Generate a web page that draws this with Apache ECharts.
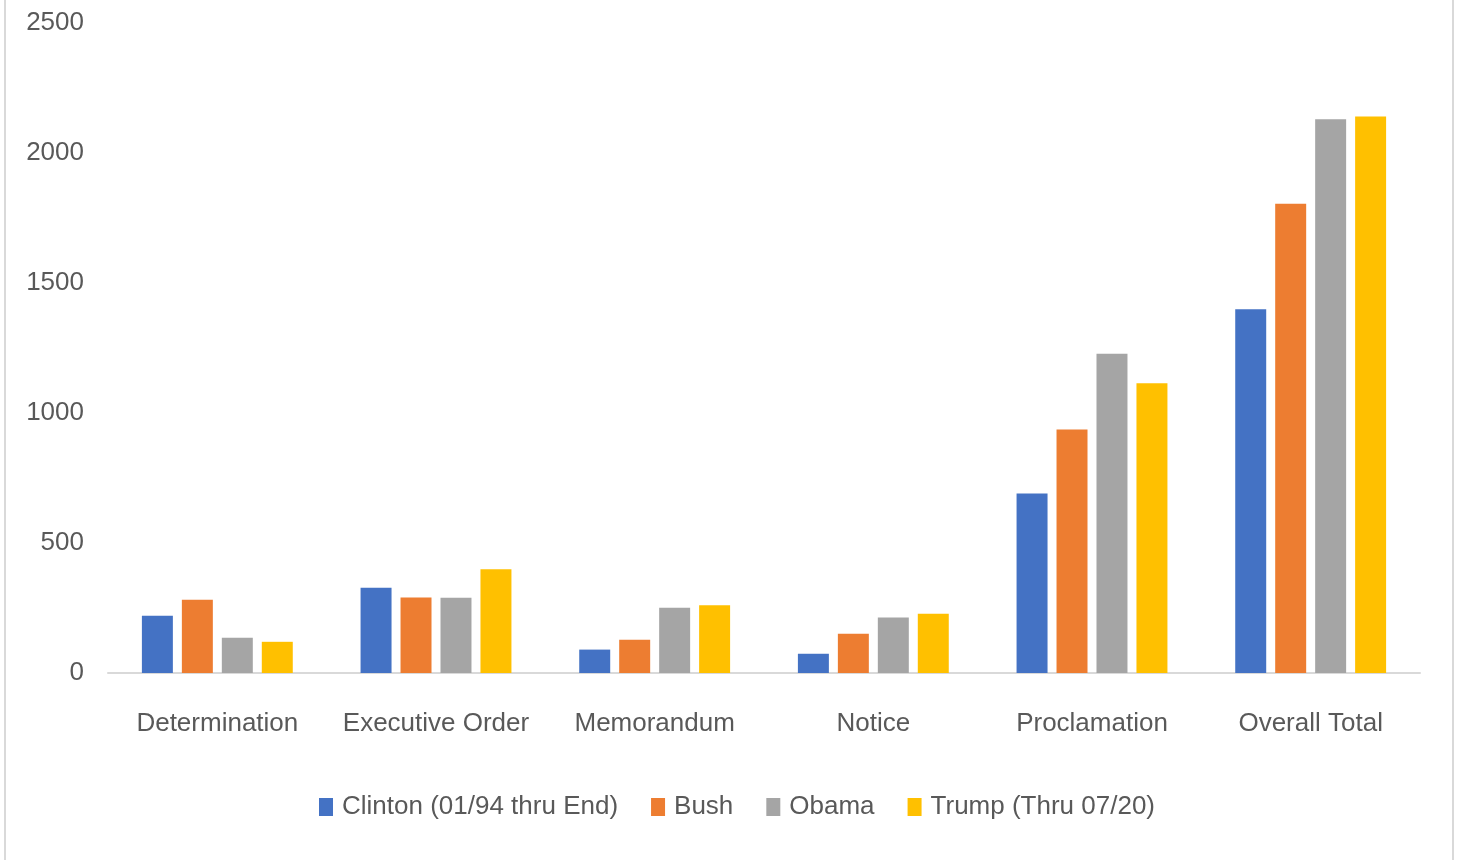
<!DOCTYPE html>
<html><head><meta charset="utf-8">
<script src="https://cdn.jsdelivr.net/npm/echarts@6/dist/echarts.min.js"></script>
<style>
html,body{margin:0;padding:0;background:#fff;}
#c{width:1459px;height:860px;}
#fl{position:absolute;left:4px;top:0;width:2px;height:860px;background:#d9d9d9;}
#fr{position:absolute;left:1452px;top:0;width:2px;height:860px;background:#d9d9d9;}
</style></head>
<body>
<div id="c"></div><div id="fl"></div><div id="fr"></div>
<script>
const categories = ['Determination','Executive Order','Memorandum','Notice','Proclamation','Overall Total'];
const seriesNames = ['Clinton (01/94 thru End)','Bush','Obama','Trump (Thru 07/20)'];
const clinton = [220, 328, 90, 74, 690, 1399];
const bush = [282, 290, 128, 151, 937, 1805];
const obama = [136, 289, 251, 213, 1228, 2130];
const trump = [120, 399, 261, 228, 1114, 2140];
const colors = ['#4472C4','#ED7D31','#A5A5A5','#FFC000'];
const values = [clinton, bush, obama, trump];
const font = "'Liberation Sans', sans-serif";
const chart = echarts.init(document.getElementById('c'));
chart.setOption({
  animation:false,
  textStyle:{fontFamily:font},
  grid:{left:108,right:39,top:23,bottom:187},
  legend:{
    bottom:35, left:314, itemWidth:14, itemHeight:18, itemGap:33,
    icon:'rect',
    textStyle:{fontFamily:font,fontSize:26,color:'#595959',padding:[0,0,0,4]},
    data:seriesNames
  },
  xAxis:{type:'category',data:categories,
    axisLine:{lineStyle:{color:'#d9d9d9',width:2}},
    axisTick:{show:false},
    axisLabel:{fontFamily:font,fontSize:26,color:'#595959',margin:38,interval:0}},
  yAxis:{type:'value',min:0,max:2500,interval:500,
    axisLine:{show:false},axisTick:{show:false},splitLine:{show:false},
    axisLabel:{fontFamily:font,fontSize:26,color:'#595959',margin:24,
      formatter:v=>String(v)}},
  series: seriesNames.map((n,i)=>({
    name:n,type:'bar',data:values[i],barGap:'29%',barCategoryGap:'31%',
    itemStyle:{color:colors[i]}
  }))
});
</script>
</body></html>
